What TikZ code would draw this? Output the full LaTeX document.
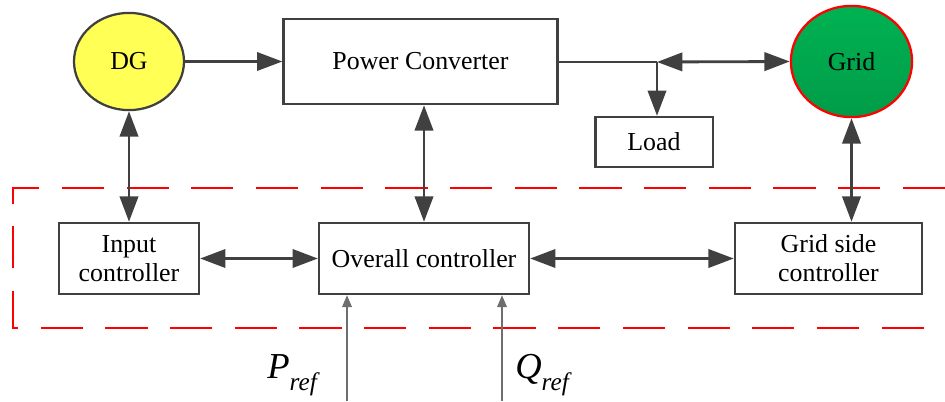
\documentclass[tikz,border=0pt]{standalone}
\usepackage{fontspec}
\setmainfont{Liberation Serif}
\usetikzlibrary{positioning, arrows.meta, shapes.geometric}

\definecolor{linegray}{RGB}{64,64,64}
\definecolor{refgray}{RGB}{110,110,110}
\definecolor{dgyellow}{RGB}{255,255,85}
\definecolor{gridtop}{RGB}{0,178,82}
\definecolor{gridbot}{RGB}{0,156,72}

\begin{document}
\begin{tikzpicture}[x=0.025cm, y=-0.025cm,
      font=\fontsize{18.4}{20.7}\selectfont,
      blk/.style={draw=linegray, line width=1.6pt, align=center, inner sep=0pt},
      src/.style={ellipse, draw=linegray, line width=1.6pt, fill=dgyellow, inner sep=0pt},
      net/.style={ellipse, draw=red, line width=1.6pt, top color=gridtop, bottom color=gridbot, inner sep=0pt},
      conn/.style={draw=linegray, line width=2pt},
      big/.style={-{Triangle[length=18pt, width=13pt]}},
      bigboth/.style={{Triangle[length=18pt, width=13pt]}-{Triangle[length=18pt, width=13pt]}},
      refarr/.style={draw=refgray, line width=0.8pt, -{Triangle[length=8.5pt, width=7pt]}},
      zone/.style={draw=red, line width=2pt, dash pattern=on 30pt off 16pt}
    ]
    \useasboundingbox (0,0) rectangle (945,401);

    % Regelbereich
    \draw[zone] (945,188) -| (13,328) -- (945,328);

    % Leistungsteil
    \node[src, minimum width=2.75cm, minimum height=2.43cm] (dg) at (129,61.5) {DG};
    \node[blk, minimum width=6.85cm, minimum height=2.13cm] (conv) at (420.5,61.5) {Power Converter};
    \node[net, minimum width=3.03cm, minimum height=2.78cm] (grid) at (851.5,61.5) {Grid};
    \node[blk, minimum width=2.93cm, minimum height=1.25cm] (load) at (654,142) {Load};
    \coordinate (tap) at (657,62);

    % Regler
    \node[blk, minimum width=3.5cm, minimum height=1.78cm] (inctl) at (129,258.5) {Input\\controller};
    \node[blk, minimum width=5.25cm, minimum height=1.78cm] (allctl) at (424,258.5) {Overall controller};
    \node[blk, minimum width=4.68cm, minimum height=1.78cm] (gridctl) at (828.5,258.5) {Grid side\\controller};

    % Leistungsfluss
    \draw[conn, big] (dg) -- (conv);
    \draw[conn] (conv.east |- tap) -- (tap);
    \draw[conn, big] (tap) -- (tap |- load.north);
    \draw[conn, bigboth] (tap) -- (grid.west);

    % Signale
    \draw[conn, bigboth] (dg.south) -- (inctl.north);
    \draw[conn, bigboth] (allctl.north |- conv.south) -- (allctl.north);
    \draw[conn, bigboth] (grid.south) -- (grid.south |- gridctl.north);
    \draw[conn, bigboth] (inctl) -- (allctl);
    \draw[conn, bigboth] (allctl) -- (gridctl);

    % Sollwerte
    \coordinate (pin) at (347,401);
    \coordinate (qin) at (502,401);
    \draw[refarr] (pin) -- (pin |- allctl.south);
    \draw[refarr] (qin) -- (qin |- allctl.south);
    \node[anchor=base west, inner sep=0pt, font=\fontsize{26}{28}\selectfont] (pref) at (267,378)
      {\textit{P}\raisebox{-9pt}{\fontsize{18}{20}\selectfont\textit{ref}}};
    \node[anchor=base west, inner sep=0pt, font=\fontsize{26}{28}\selectfont] (qref) at (515,378)
      {\textit{Q}\raisebox{-9pt}{\fontsize{18}{20}\selectfont\textit{ref}}};
  \end{tikzpicture}
\end{document}
